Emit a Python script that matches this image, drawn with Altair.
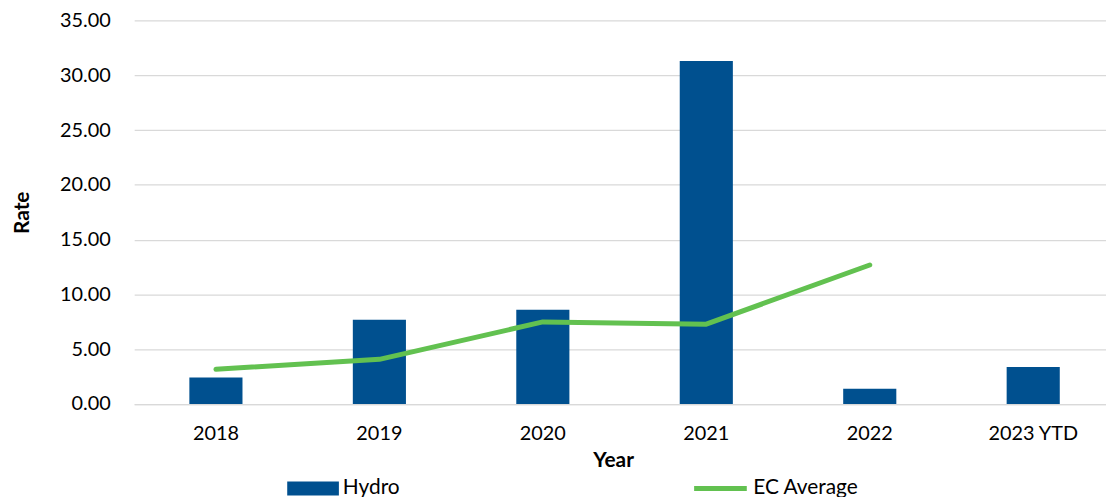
import altair as alt
import pandas as pd

years = ["2018", "2019", "2020", "2021", "2022", "2023 YTD"]
hydro = [2.43, 7.69, 8.60, 31.30, 1.39, 3.38]
ec_average = [3.17, 4.08, 7.49, 7.29, 12.69, None]

df = pd.DataFrame({"Year": years, "Hydro": hydro, "EC": ec_average})
df["s_bar"] = "Hydro"
df["s_line"] = "EC Average"

FONT = "Lato"
x_enc = alt.X(
    "Year:N",
    sort=years,
    scale=alt.Scale(paddingInner=0.675, paddingOuter=0.3375, range=[0, 987]),
    axis=alt.Axis(
        title="Year", labelAngle=0, ticks=False, domainColor="#d9d9d9",
        domainWidth=1.3, labelPadding=20, titlePadding=6, titleX=482,
        labelFontSize=20, titleFontSize=21, titleFontWeight="bold",
        labelColor="#000000", titleColor="#000000", labelFont=FONT, titleFont=FONT,
    ),
)
y_axis = alt.Axis(
    title="Rate", values=[0, 5, 10, 15, 20, 25, 30, 35], format=".2f",
    ticks=False, domain=False, gridColor="#d9d9d9", gridWidth=1.3,
    labelPadding=24, titlePadding=27, labelFontSize=20, titleFontSize=21,
    titleFontWeight="bold", labelColor="#000000", titleColor="#000000",
    labelFont=FONT, titleFont=FONT,
)

bars = alt.Chart(df).mark_bar().encode(
    x=x_enc,
    y=alt.Y("Hydro:Q", scale=alt.Scale(domain=[0, 35], nice=False), axis=y_axis),
    fill=alt.Fill(
        "s_bar:N",
        scale=alt.Scale(domain=["Hydro"], range=["#00508f"]),
        legend=alt.Legend(
            title=None, orient="none", legendX=154, legendY=445, padding=0,
            symbolType="M-1,-0.27L1,-0.27L1,0.27L-1,0.27Z", symbolSize=2704,
            symbolStrokeWidth=0, labelFontSize=21, labelFont=FONT,
            labelColor="#000000", labelOffset=4,
        ),
    ),
)

line = alt.Chart(df).mark_line(strokeWidth=5, strokeCap="round", strokeJoin="round").encode(
    x=alt.X("Year:N", sort=years),
    y=alt.Y("EC:Q"),
    stroke=alt.Stroke(
        "s_line:N",
        scale=alt.Scale(domain=["EC Average"], range=["#62c150"]),
        legend=alt.Legend(
            title=None, orient="none", legendX=561, legendY=442, padding=0,
            symbolType="stroke", symbolSize=2809, symbolStrokeWidth=5,
            labelFontSize=21, labelFont=FONT, labelColor="#000000", labelOffset=4,
        ),
    ),
)

chart = (
    alt.layer(bars, line)
    .properties(
        width=978, height=386,
        autosize=alt.AutoSizeParams(type="none"),
        padding={"left": 127, "top": 11, "right": 0, "bottom": 92},
    )
    .configure_view(stroke=None)
)

chart.save("out.html", embed_options={"renderer": "svg", "actions": False})
